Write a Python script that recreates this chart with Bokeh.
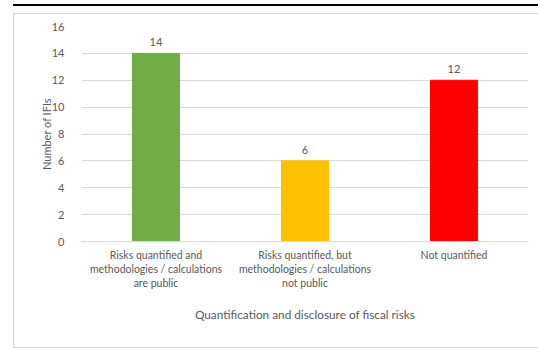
from bokeh.plotting import figure
from bokeh.models import (ColumnDataSource, FactorRange, Range1d, FixedTicker,
                          LabelSet, InlineStyleSheet)
from bokeh.core.properties import value
from bokeh.embed import file_html
from bokeh.resources import INLINE

# Data
categories = [
    "Risks quantified and\nmethodologies / calculations\nare public",
    "Risks quantified, but\nmethodologies / calculations\nnot public",
    "Not quantified",
]
counts = [14, 6, 12]
bar_colors = ["#70AD47", "#FFC000", "#FF0000"]
y_ticks = [0, 2, 4, 6, 8, 10, 12, 14, 16]

FONT = "Lato"
TXT = "#595959"

source = ColumnDataSource(dict(
    cat=categories,
    n=counts,
    color=bar_colors,
    lbl=[str(v) for v in counts],
))

p = figure(
    width=538, height=349,
    x_range=FactorRange(*categories, range_padding=0.0),
    y_range=Range1d(0, 16),
    output_backend="svg", toolbar_location=None,
    min_border_left=81, min_border_right=10,
    min_border_top=26, min_border_bottom=108,
)
p.outline_line_color = None
p.background_fill_color = "white"
p.border_fill_color = "white"

p.vbar(x="cat", top="n", width=0.315, color="color", source=source)

p.add_layout(LabelSet(
    x="cat", y="n", text="lbl", source=source,
    text_align="center", text_baseline="bottom", y_offset=7,
    text_font=value(FONT), text_font_size=value("11px"), text_color=value(TXT),
))

# Grid
p.xgrid.grid_line_color = None
p.ygrid.grid_line_color = "#D9D9D9"
p.ygrid.grid_line_width = 1
p.yaxis.ticker = FixedTicker(ticks=y_ticks)

# Y axis
p.yaxis.axis_line_color = None
p.yaxis.major_tick_line_color = None
p.yaxis.minor_tick_line_color = None
p.yaxis.major_label_standoff = 11
p.yaxis.major_label_text_font = FONT
p.yaxis.major_label_text_font_size = "11px"
p.yaxis.major_label_text_color = TXT
p.yaxis.axis_label = "Number of IFIs"
p.yaxis.axis_label_text_font = FONT
p.yaxis.axis_label_text_font_size = "11px"
p.yaxis.axis_label_text_font_style = "normal"
p.yaxis.axis_label_text_color = TXT
p.yaxis.axis_label_standoff = -4

# X axis
p.xaxis.axis_line_color = "#D9D9D9"
p.xaxis.major_tick_line_color = None
p.xaxis.minor_tick_line_color = None
p.xaxis.major_label_standoff = 1
p.xaxis.major_label_text_font = FONT
p.xaxis.major_label_text_font_size = "10.5px"
p.xaxis.major_label_text_color = TXT
p.xaxis.major_label_orientation = "horizontal"
p.xaxis.axis_label = "Quantification and disclosure of fiscal risks"
p.xaxis.axis_label_text_font = FONT
p.xaxis.axis_label_text_font_size = "11.8px"
p.xaxis.axis_label_text_font_style = "normal"
p.xaxis.axis_label_text_color = TXT
p.xaxis.axis_label_standoff = 15

# Light chart border and heavy top rule around the whole figure
p.stylesheets = [InlineStyleSheet(css="""
:host::before {
  content: ""; position: absolute; left: 13px; top: 13px; right: 0;
  height: 335px; box-sizing: border-box;
  border: 1px solid #D9D9D9; border-right-width: 0;
  pointer-events: none; z-index: 5;
}
:host::after {
  content: ""; position: absolute; left: 13px; top: 4px; right: 0;
  height: 2px; background: #000000;
  pointer-events: none; z-index: 5;
}
""")]

open("out.html", "w").write(file_html(p, INLINE))
